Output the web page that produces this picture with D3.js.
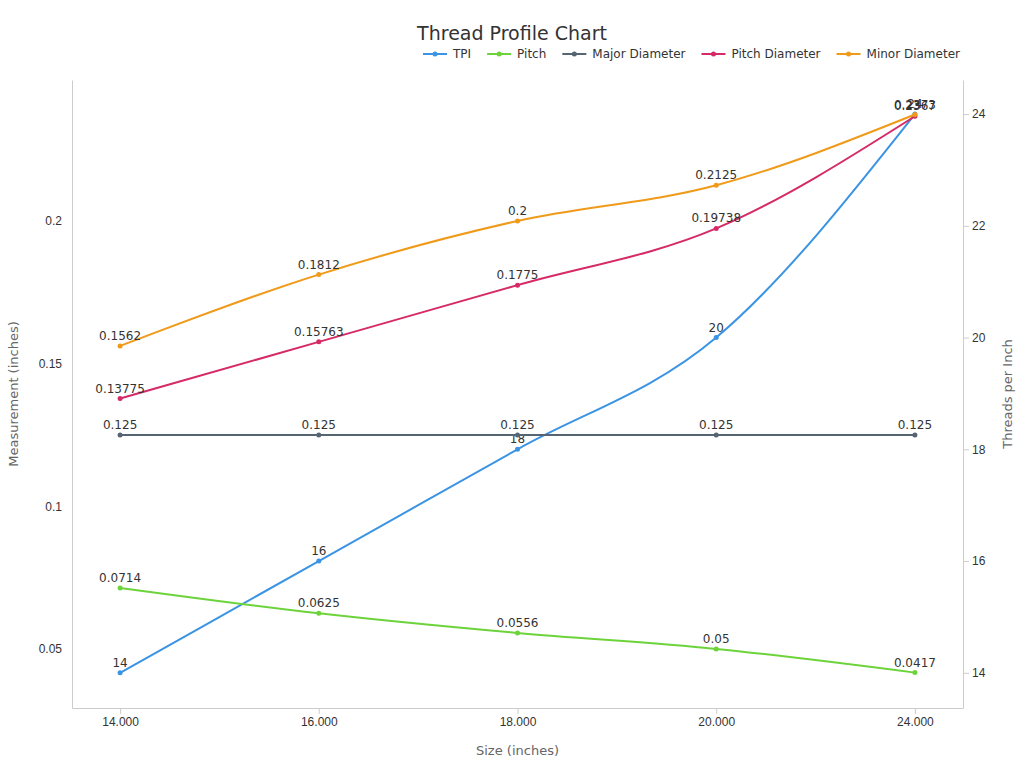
<!DOCTYPE html>
<html>
<head>
<meta charset="utf-8">
<script src="https://cdn.jsdelivr.net/npm/d3@7"></script>
<style>
body { margin: 0; background: #fff; font-family: "DejaVu Sans", sans-serif; }
.axis text { font-size: 12px; fill: #333; }
.axis path, .axis line { stroke: #ccc; }
</style>
</head>
<body>
<div id="chart"></div>
<script>
// Data
var sizes = [14, 16, 18, 20, 24];
var tpi = [14, 16, 18, 20, 24];
var pitch = [0.0714, 0.0625, 0.0556, 0.05, 0.0417];
var majorDiameter = [0.125, 0.125, 0.125, 0.125, 0.125];
var pitchDiameter = [0.13775, 0.15763, 0.1775, 0.19738, 0.2367];
var minorDiameter = [0.1562, 0.1812, 0.2, 0.2125, 0.2373];

var series = [
  { name: "TPI", values: tpi, color: "#3b94e3", right: true },
  { name: "Pitch", values: pitch, color: "#6dd33a" },
  { name: "Major Diameter", values: majorDiameter, color: "#566574" },
  { name: "Pitch Diameter", values: pitchDiameter, color: "#d62a67" },
  { name: "Minor Diameter", values: minorDiameter, color: "#f09a1a" }
];

var width = 1024, height = 768;
var margin = { top: 80, right: 61, bottom: 60, left: 72 };
var innerW = width - margin.left - margin.right,
    innerH = height - margin.top - margin.bottom;

var svg = d3.select("#chart").append("svg")
    .attr("width", width).attr("height", height);

var g = svg.append("g")
    .attr("transform", "translate(" + margin.left + "," + margin.top + ")");

var x = d3.scalePoint().domain(sizes).range([0, innerW]).padding(0.242);
var yL = d3.scaleLinear().domain([0.0293, 0.2494]).range([innerH, 0]);
var yR = d3.scaleLinear().domain([13.37, 24.61]).range([innerH, 0]);

// Axes
g.append("g").attr("class", "axis")
    .attr("transform", "translate(0," + innerH + ")")
    .call(d3.axisBottom(x).tickFormat(d3.format(".3f")).tickSizeOuter(0));
g.append("g").attr("class", "axis")
    .call(d3.axisLeft(yL).tickValues([0.05, 0.1, 0.15, 0.2]).tickFormat(function(d) { return +d.toFixed(2); }).tickSize(0).tickPadding(10).tickSizeOuter(0));
var ra = g.append("g").attr("class", "axis")
    .attr("transform", "translate(" + innerW + ",0)")
    .call(d3.axisRight(yR).tickValues([14, 16, 18, 20, 22, 24]).tickSizeOuter(0));
ra.select("path").attr("stroke", "#333");
ra.selectAll("line").attr("stroke", "#333");

// Axis titles
svg.append("text").attr("x", margin.left + innerW / 2).attr("y", 755)
    .attr("text-anchor", "middle").style("font-size", "13px").style("fill", "#666")
    .text("Size (inches)");
svg.append("text").attr("transform", "translate(18," + (margin.top + innerH / 2) + ") rotate(-90)")
    .attr("text-anchor", "middle").style("font-size", "13px").style("fill", "#666")
    .text("Measurement (inches)");
svg.append("text").attr("transform", "translate(1012," + (margin.top + innerH / 2) + ") rotate(-90)")
    .attr("text-anchor", "middle").style("font-size", "13px").style("fill", "#666")
    .text("Threads per Inch");

// Title
svg.append("text").attr("x", 512).attr("y", 40).attr("text-anchor", "middle")
    .style("font-size", "19px").style("fill", "#333").text("Thread Profile Chart");

// Lines
series.forEach(function(s) {
  var y = s.right ? yR : yL;
  var line = d3.line()
      .x(function(d, i) { return x(sizes[i]); })
      .y(function(d) { return y(d); })
      .curve(d3.curveMonotoneX);
  g.append("path").datum(s.values)
      .attr("fill", "none").attr("stroke", s.color).attr("stroke-width", 2)
      .attr("d", line);
  g.selectAll(null).data(s.values).enter().append("circle")
      .attr("cx", function(d, i) { return x(sizes[i]); })
      .attr("cy", function(d) { return y(d); })
      .attr("r", 2.5).attr("fill", s.color);
  g.selectAll(null).data(s.values).enter().append("text")
      .attr("x", function(d, i) { return x(sizes[i]); })
      .attr("y", function(d) { return y(d) - 6; })
      .attr("text-anchor", "middle").style("font-size", "12px").style("fill", "#333")
      .text(function(d) { return d; });
});

// Legend
var legend = svg.append("g").attr("transform", "translate(423,54)");
var lx = 0;
series.forEach(function(s) {
  var item = legend.append("g").attr("transform", "translate(" + lx + ",0)");
  item.append("line").attr("x1", 0).attr("x2", 24).attr("y1", 0).attr("y2", 0)
      .attr("stroke", s.color).attr("stroke-width", 2);
  item.append("circle").attr("cx", 12).attr("cy", 0).attr("r", 2.5).attr("fill", s.color);
  var t = item.append("text").attr("x", 30).attr("y", 4).style("font-size", "12px")
      .style("fill", "#333").text(s.name);
  lx += 30 + t.node().getComputedTextLength() + 16;
});
</script>
</body>
</html>
